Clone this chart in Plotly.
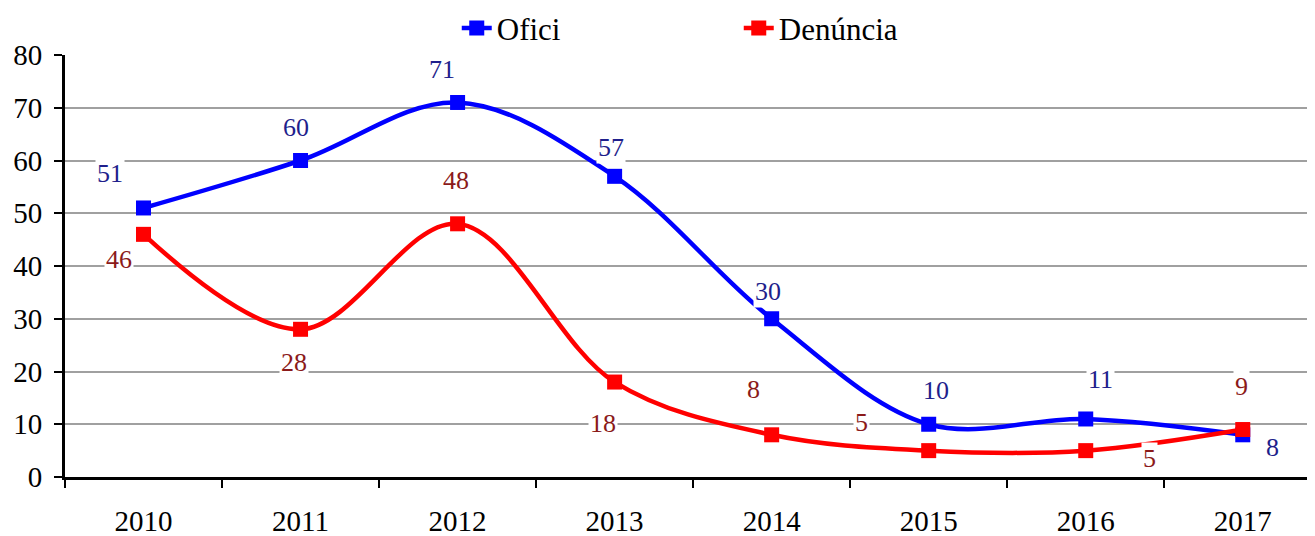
import plotly.graph_objects as go

years = ["2010", "2011", "2012", "2013", "2014", "2015", "2016", "2017"]
ofici = [51, 60, 71, 57, 30, 10, 11, 8]
denuncia = [46, 28, 48, 18, 8, 5, 5, 9]

# label offsets in pixels (dx, dy screen-down)
ofici_off = [(-34, -34), (-5, -33), (-16, -33), (-4, -29), (-4, -27), (7, -34), (15, -39), (30, 13)]
den_off = [(-25, 25), (-7, 33), (-2, -43), (-12, 41), (-18, -45), (-67, -28), (64, 8), (-1, -43)]

FONT = "Liberation Serif"
BLUE = "#0000FF"
RED = "#FF0000"
BLUE_T = "#1F1F8C"
RED_T = "#8B1A1A"

fig = go.Figure()
fig.add_trace(go.Scatter(x=years, y=ofici, name="Ofici", mode="lines+markers",
                         line=dict(color=BLUE, width=4.5, shape="spline", smoothing=1),
                         marker=dict(symbol="square", size=15, color=BLUE)))
fig.add_trace(go.Scatter(x=years, y=denuncia, name="Denúncia", mode="lines+markers",
                         line=dict(color=RED, width=4.5, shape="spline", smoothing=1),
                         marker=dict(symbol="square", size=15, color=RED)))

ann = []
for i, (v, (dx, dy)) in enumerate(zip(ofici, ofici_off)):
    ann.append(dict(x=i, y=v, text=str(v), showarrow=False, xshift=dx, yshift=-dy,
                    font=dict(family=FONT, size=26, color=BLUE_T), bgcolor="white",
                    xref="x", yref="y"))
for i, (v, (dx, dy)) in enumerate(zip(denuncia, den_off)):
    ann.append(dict(x=i, y=v, text=str(v), showarrow=False, xshift=dx, yshift=-dy,
                    font=dict(family=FONT, size=26, color=RED_T), bgcolor="white",
                    xref="x", yref="y"))

fig.update_layout(
    width=1307, height=528,
    margin=dict(l=57, r=0, t=47, b=59, autoexpand=False),
    plot_bgcolor="white", paper_bgcolor="white",
    font=dict(family=FONT, size=26, color="black"),
    showlegend=True,
    legend=dict(orientation="h", x=0.539, xanchor="center", y=1.063, yanchor="middle",
                font=dict(family=FONT, size=31, color="black"), entrywidth=237,
                bgcolor="rgba(0,0,0,0)"),
    annotations=ann,
    xaxis=dict(type="category", range=[-0.5, 7.46], showgrid=False,
               showline=True, linecolor="black", linewidth=3,
               ticks="outside", tickson="boundaries", ticklen=8, tickwidth=2,
               tickcolor="black", tickfont=dict(family=FONT, size=29), zeroline=False,
               ticklabelstandoff=16),
    yaxis=dict(range=[0, 80], dtick=10, showgrid=True, gridcolor="#A0A0A0", gridwidth=2,
               showline=True, linecolor="black", linewidth=3,
               ticks="outside", ticklen=8, tickwidth=2, tickcolor="black",
               tickfont=dict(family=FONT, size=29), zeroline=False,
               ticklabelstandoff=6),
)

fig.write_html("out.html")
